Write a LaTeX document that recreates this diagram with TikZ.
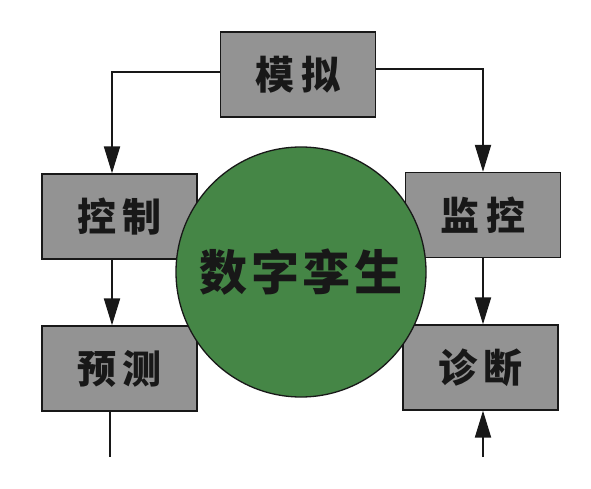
\documentclass[tikz,border=0pt]{standalone}
\usepackage{fontspec}
\usepackage{tikz}
\usetikzlibrary{arrows.meta}
\newfontfamily\cjk{Noto Sans CJK SC}
\definecolor{boxgray}{RGB}{147,147,147}
\definecolor{twingreen}{RGB}{69,134,70}
\definecolor{inkdark}{RGB}{24,24,24}

\begin{document}
\begin{tikzpicture}[x=1pt,y=-1pt,
  block/.style={draw=inkdark,line width=1.3pt,fill=boxgray,minimum width=155pt,minimum height=85pt,
    font=\cjk\bfseries\fontsize{39pt}{39pt}\selectfont\addfontfeature{LetterSpace=16},text=inkdark},
  twin/.style={circle,draw=inkdark,line width=1.3pt,fill=twingreen,minimum size=250pt,
    font=\cjk\bfseries\fontsize{48pt}{48pt}\selectfont\addfontfeature{LetterSpace=8},text=inkdark},
  arr/.style={draw=inkdark,line width=2pt,-{Triangle[length=27pt,width=16pt]}},
  wire/.style={draw=inkdark,line width=2pt}]
\useasboundingbox (0,0) rectangle (591,489);
\tikzstyle{every node}+=[inner sep=0pt]
\node [block] (sim) at (298,74.5) {模拟};
\node [block] (ctrl) at (119.5,216.5) {控制};
\node [block] (mon) at (483,215) {监控};
\node [block] (pred) at (119.5,368.5) {预测};
\node [block] (diag) at (480.5,367.5) {诊断};
\node [twin] (dt) at (301,272) {数字孪生};
\coordinate (lcol) at (112,0);
\coordinate (rcol) at (483,0);
\coordinate (predout) at (110,457);
\coordinate (diagin) at (483,457);
\draw [arr] ([yshift=2.5pt]sim.west) -| (ctrl.north -| lcol);
\draw [arr] ([yshift=5pt]sim.east) -| (mon.north -| rcol);
\draw [arr] (ctrl.south -| lcol) -- (pred.north -| lcol);
\draw [arr] (mon.south -| rcol) -- (diag.north -| rcol);
\draw [wire] (pred.south -| predout) -- (predout);
\draw [arr] (diagin) -- (diagin |- diag.south);
\end{tikzpicture}
\end{document}
